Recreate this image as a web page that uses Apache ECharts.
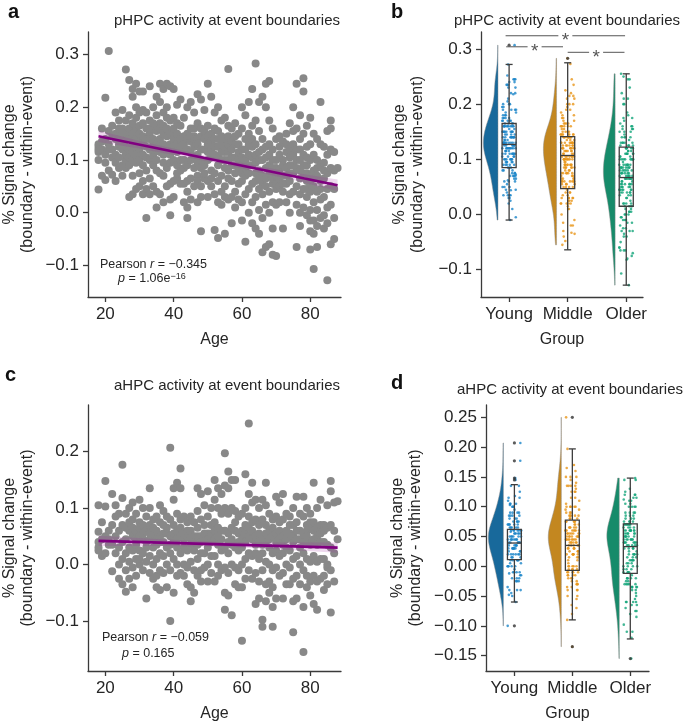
<!DOCTYPE html>
<html><head><meta charset="utf-8">
<script src="https://cdn.jsdelivr.net/npm/echarts@6/dist/echarts.min.js"></script>
<style>html,body{margin:0;padding:0;background:#fff}#c{width:684px;height:724px}</style>
</head><body><div id="c"></div>
<script>
// ---------------- DATA ----------------
const groupNames = ['Young', 'Middle', 'Older'];
const groupAgeMax = [41, 64, 88];          // upper age of each group
const ageTicks = [20, 40, 60, 80];
const yTicksA = [-0.1, 0, 0.1, 0.2, 0.3];
const yTicksB = [-0.1, 0, 0.1, 0.2, 0.3];
const yTicksC = [-0.1, 0, 0.1, 0.2];
const yTicksD = [-0.15, -0.1, -0.05, 0, 0.05, 0.1, 0.15, 0.2, 0.25];

// rows: age, then % signal change values of participants of that age (pHPC)
const pHPC = [
[18,0.044,0.115,0.125,0.12,0.13,0.1],
[19,0.16,0.07,0.12,0.135],
[20,0.218,0.062,0.11,0.14,0.095],
[21,0.307,0.155,0.13,0.08,0.12],
[22,0.072,0.12,0.145,0.105,0.165],
[23,0.14,0.095,0.15,0.19,0.11,0.06],
[24,0.125,0.16,0.105,0.085,0.175,0.14,0.13],
[25,0.195,0.15,0.09,0.12,0.07,0.135,0.16],
[26,0.272,0.175,0.1,0.125,0.145,0.085,0.15,0.11],
[27,0.252,0.185,0.16,0.14,0.105,0.03,0.09,0.12],
[28,0.235,0.22,0.17,0.13,0.07,0.035,0.15,0.1,0.115],
[29,0.245,0.2,0.16,0.125,0.095,0.045,0.14,0.18,0.11],
[30,0.23,0.19,0.15,0.12,0.075,0.05,0.1,0.165,0.135],
[31,0.195,0.17,0.13,0.09,0.06,0.035,0.11,0.145,0.23],
[32,-0.01,0.16,0.14,0.105,0.08,0.19,0.045,0.125],
[33,0.24,0.175,0.15,0.12,0.065,0.035,0.1,0.14,0.16],
[34,0.2,0.16,0.13,0.11,0.09,0.05,0.14,0.17,0.12],
[35,0.22,0.185,0.155,0.12,0.08,0.01,0.04,0.13,0.1,0.165],
[36,0.245,0.21,0.17,0.14,0.115,0.075,0.035,0.16,0.13],
[37,0.235,0.19,0.15,0.11,0.07,0.02,0.13,0.165,0.095],
[38,0.245,0.2,0.16,0.12,0.085,0.05,0.145,0.18],
[39,0.24,0.175,0.13,0.095,0.055,-0.005,0.025,0.15,0.11],
[40,0.235,0.18,0.14,0.1,0.06,0.03,0.125,0.16],
[41,0.205,0.17,0.13,0.09,0.065,0.115,0.15,0.075],
[42,0.215,0.165,0.125,0.1,0.055,0.14,0.08],
[43,0.18,0.145,0.12,0.085,0.055,0.02,0.13,0.1],
[44,0.2,0.15,0.12,0.09,0.04,-0.01,0.01,0.14,0.06],
[45,0.21,0.16,0.135,0.1,0.065,0.025,0.145,0.115],
[46,0.19,0.145,0.125,0.085,0.05,0.14,0.105,0.16],
[47,0.225,0.17,0.14,0.11,0.07,0.02,0.13,0.06,0.095],
[48,0.215,0.16,0.12,0.085,0.05,-0.035,0.145,0.1,0.03],
[49,0.195,0.155,0.12,0.09,0.065,0.14,0.075],
[50,0.245,0.165,0.13,0.1,0.06,0.03,0.115,0.145],
[51,0.22,0.15,0.12,0.08,0.05,0.105,0.135,0.065],
[52,0.19,0.14,0.11,0.075,0.035,-0.033,0.125,0.16],
[53,0.2,0.155,0.125,0.09,0.06,0.02,-0.048,0.105,0.14],
[54,0.175,0.13,0.1,0.07,0.04,0.115,0.145,0.015],
[55,0.18,0.14,0.115,0.085,0.05,-0.04,0.1,0.125,0.03],
[56,0.273,0.165,0.13,0.1,0.065,0.025,0.115,0.145,0.08],
[57,0.16,0.12,0.09,0.06,-0.02,0.105,0.135,0.03],
[58,0.17,0.13,0.105,0.075,0.04,0.09,0.145,0.01],
[59,0.15,0.115,0.085,0.055,0.025,0.1,0.13],
[60,0.2,0.16,0.12,0.09,0.06,0.02,-0.015,0.105,0.075],
[61,0.185,0.14,0.1,0.07,0.035,-0.055,0.12,0.085],
[62,0.21,0.15,0.11,0.075,0.045,0.0,0.09,0.13],
[63,0.235,0.165,0.125,0.09,0.055,0.02,0.105,0.14,-0.02],
[64,0.283,0.175,0.13,0.095,0.06,0.03,-0.03,0.11,0.075],
[65,0.21,0.155,0.115,0.08,0.045,0.005,-0.04,0.1,0.065],
[66,0.22,0.14,0.1,0.07,0.035,-0.01,-0.075,0.12,0.055],
[67,0.245,0.2,0.125,0.085,0.05,0.015,-0.065,0.105,0.065],
[68,0.25,0.175,0.11,0.075,0.04,0.0,-0.06,0.09,0.13],
[69,0.16,0.12,0.085,0.055,0.02,-0.03,-0.08,0.1,0.065],
[70,0.14,0.1,0.07,0.045,0.015,-0.082,0.085,0.055],
[71,0.145,0.11,0.08,0.05,0.02,0.065,0.125],
[72,0.135,0.1,0.07,0.04,-0.03,0.09,0.055],
[73,0.15,0.115,0.085,0.055,0.02,0.13,0.07],
[74,0.17,0.12,0.09,0.06,0.035,0.0,0.105,0.075],
[75,0.2,0.155,0.11,0.075,0.04,0.13,0.09],
[76,0.245,0.16,0.12,0.085,0.05,0.015,-0.065,0.1],
[77,0.185,0.14,0.1,0.065,0.035,0.0,-0.025,0.08,0.12],
[78,0.255,0.23,0.15,0.11,0.075,0.045,0.01,0.09],
[79,0.165,0.125,0.09,0.06,0.03,-0.005,0.105,0.075,0.045],
[80,0.18,0.13,0.1,0.07,0.04,0.005,-0.035,-0.07,-0.015,0.055],
[81,0.15,0.11,0.08,0.05,0.02,-0.015,-0.04,-0.107,0.065],
[82,0.14,0.1,0.07,0.04,0.005,-0.025,-0.065,0.085],
[83,0.21,0.13,0.09,0.06,0.025,-0.01,0.045],
[84,0.125,0.095,0.065,0.03,-0.005,-0.03,0.08],
[85,0.155,0.11,0.075,0.045,0.01,-0.02,-0.128],
[86,0.175,0.16,0.12,0.085,0.05,0.015,-0.06],
[87,0.115,0.08,0.045,-0.01,-0.05],
[88,0.085]
];

// rows: age, then % signal change values (aHPC)
const aHPC = [
[18,0.105,0.058,0.04,0.03,0.025],
[19,0.075,0.045,0.015],
[20,0.148,0.103,0.05,0.02],
[21,0.045,0.035,0.06],
[22,0.125,0.035,-0.012,0.07],
[23,0.085,0.05,0.02,0.105],
[24,0.09,0.06,0.03,-0.025,0.0],
[25,0.177,0.118,0.07,0.04,0.01,-0.035],
[26,0.065,0.045,0.02,-0.01,-0.048,0.09],
[27,0.1,0.06,0.03,0.005,-0.025,0.075],
[28,0.11,0.08,0.05,0.025,-0.005,-0.04,0.065],
[29,0.09,0.06,0.035,0.01,-0.02,0.045],
[30,0.115,0.075,0.05,0.025,0.0,0.065,0.01],
[31,0.1,0.07,0.045,0.02,-0.01,0.055],
[32,0.085,0.06,0.03,0.005,-0.06,0.04],
[33,0.135,0.1,0.07,0.045,0.015,-0.015,0.055],
[34,0.08,0.055,0.03,0.0,-0.025,0.065],
[35,0.085,0.06,0.035,0.01,-0.02,-0.04,0.045],
[36,0.105,0.075,0.05,0.02,-0.01,-0.045,0.04],
[37,0.095,0.07,0.04,0.015,-0.015,0.055],
[38,0.085,0.055,0.03,0.0,-0.04,0.065],
[39,0.207,0.08,0.05,0.02,-0.01,-0.1,0.035],
[40,0.135,0.115,0.07,0.04,0.01,-0.05,0.055],
[41,0.145,0.09,0.06,0.03,0.0,-0.02,0.045],
[42,0.17,0.135,0.08,0.05,0.02,-0.015,0.065],
[43,0.085,0.055,0.03,0.0,-0.02,0.045],
[44,0.075,0.05,0.025,-0.005,-0.035,0.06],
[45,0.085,0.06,0.035,0.005,-0.04,-0.065,0.045],
[46,0.075,0.05,0.025,-0.01,-0.05,0.04],
[47,0.135,0.095,0.065,0.035,0.01,-0.02,0.05],
[48,0.125,0.08,0.05,0.02,-0.01,-0.03,0.04],
[49,0.105,0.07,0.045,0.02,-0.005,0.055],
[50,0.13,0.085,0.055,0.03,0.0,-0.03,0.045],
[51,0.1,0.07,0.04,0.015,-0.015,0.055],
[52,0.15,0.115,0.075,0.045,0.015,-0.03,0.06],
[53,0.135,0.1,0.065,0.035,0.0,-0.02,0.05],
[54,0.125,0.09,0.06,0.025,-0.01,0.045],
[55,0.197,0.14,0.1,0.06,0.03,-0.005,-0.05,-0.08],
[56,0.165,0.135,0.09,0.055,0.02,-0.015,-0.055,0.04],
[57,0.15,0.1,0.065,0.035,0.0,-0.09,0.045],
[58,0.15,0.095,0.06,0.03,-0.005,-0.035,0.075],
[59,0.085,0.055,0.025,-0.01,-0.04,0.04],
[60,0.09,0.06,0.03,0.0,-0.04,-0.135,0.045],
[61,0.16,0.1,0.07,0.04,0.01,-0.025,0.055],
[62,0.25,0.125,0.085,0.05,0.02,-0.01,0.065],
[63,0.145,0.11,0.075,0.045,0.015,-0.025,0.06],
[64,0.115,0.08,0.05,0.02,-0.015,-0.07,0.035],
[65,0.1,0.07,0.04,0.01,-0.03,-0.06,0.055],
[66,0.115,0.08,0.05,0.02,-0.01,-0.098,-0.11,0.035],
[67,0.145,0.105,0.07,0.04,0.005,-0.035,-0.065,0.055],
[68,0.09,0.06,0.03,0.0,-0.03,-0.05,0.045],
[69,0.08,0.05,0.02,-0.01,-0.04,-0.11,-0.075,0.065],
[70,0.12,0.085,0.055,0.025,-0.005,-0.06,0.04],
[71,0.11,0.075,0.045,0.015,-0.02,0.06],
[72,0.125,0.08,0.05,0.02,-0.015,-0.06,0.035],
[73,0.09,0.06,0.03,0.0,-0.035,0.045],
[74,0.085,0.055,0.025,-0.005,-0.035,0.07],
[75,0.1,0.07,0.04,0.01,-0.025,-0.065,-0.12,0.05],
[76,0.12,0.075,0.045,0.015,-0.02,-0.06,0.06],
[77,0.09,0.06,0.03,0.0,-0.035,0.045],
[78,0.12,0.085,0.055,0.02,-0.01,-0.075,-0.155,0.04],
[79,0.1,0.07,0.04,0.01,-0.02,-0.04,0.06,0.05],
[80,0.09,0.065,0.035,0.005,-0.03,-0.055,0.075],
[81,0.145,0.075,0.045,0.015,-0.02,-0.07,0.06],
[82,0.1,0.065,0.035,0.005,-0.03,-0.08,0.05],
[83,0.115,0.07,0.04,0.01,-0.025,0.055],
[84,0.07,0.04,0.01,-0.02,-0.045,0.06],
[85,0.105,0.065,0.035,0.0,-0.035,-0.005],
[86,0.148,0.13,0.07,0.03,-0.01,-0.085],
[87,0.11,0.06,0.02,-0.03],
[88,0.112,0.045]
];

// regression fits (age, fitted value) and CI half-widths (age, half-width)
const fitA = [[18, 0.145], [88, 0.052]];
const ciA  = [[18, 0.011], [30, 0.007], [53, 0.0045], [75, 0.007], [88, 0.011]];
const fitC = [[18, 0.042], [88, 0.030]];
const ciC  = [[18, 0.009], [35, 0.006], [53, 0.004], [70, 0.006], [88, 0.009]];

// box stats per group: [lower whisker, Q1, median, Q3, upper whisker]
const boxB = [[-0.010, 0.085, 0.127, 0.165, 0.272],
              [-0.064, 0.047, 0.107, 0.141, 0.275],
              [-0.128, 0.015, 0.067, 0.122, 0.255]];
const boxD = [[-0.060, 0.011, 0.039, 0.062, 0.137],
              [-0.090, -0.007, 0.035, 0.0775, 0.197],
              [-0.122, -0.012, 0.033, 0.071, 0.148]];

// significance bars in panel b: [from group, to group, level]
const sigB = [[-0.06, 1.98, 0.324], [-0.05, 0.92, 0.304], [1.0, 1.97, 0.294]];

// ---------------- STYLE ----------------
const FONT = '"Liberation Sans", Arial, Helvetica, sans-serif';
const TXT = '#262626', AX = '#3a3a3a';
const violinColors = ['#18699b', '#c38720', '#168b6a'];
const dotColors = ['#1a85c8', '#e8961a', '#14a57a'];

function flatten(rows) { const out = []; rows.forEach(r => { for (let i = 1; i < r.length; i++) out.push([r[0], r[i]]); }); return out; }
const ptsA = flatten(pHPC), ptsC = flatten(aHPC);
function groupOf(age) { return age <= groupAgeMax[0] ? 0 : age <= groupAgeMax[1] ? 1 : 2; }
function groupVals(pts) { const g = [[], [], []]; pts.forEach(p => g[groupOf(p[0])].push(p[1])); return g; }
const grpB = groupVals(ptsA), grpD = groupVals(ptsC);

function kde(vals, nGrid) {
  const n = vals.length, mean = vals.reduce((a, b) => a + b, 0) / n;
  const sd = Math.sqrt(vals.reduce((a, b) => a + (b - mean) * (b - mean), 0) / (n - 1));
  const bw = sd * Math.pow(n, -0.2);
  const lo = Math.min(...vals), hi = Math.max(...vals);
  const out = [];
  for (let i = 0; i <= nGrid; i++) {
    const y = lo + (hi - lo) * i / nGrid; let d = 0;
    vals.forEach(v => { const z = (y - v) / bw; d += Math.exp(-0.5 * z * z); });
    out.push([y, d / (n * bw * Math.sqrt(2 * Math.PI))]);
  }
  return out;
}

function fmt(dec) { return v => (v < -1e-9 ? '\u2212' : '') + Math.abs(v).toFixed(dec); }

function valAxis(gi, min, max, ticks, formatter, extra) {
  return Object.assign({
    type: 'value', gridIndex: gi, min, max, splitLine: { show: false },
    axisLine: { show: true, onZero: false, lineStyle: { color: AX, width: 1.3 } },
    axisTick: { show: true, length: 5, lineStyle: { color: AX, width: 1.3 }, customValues: ticks },
    axisLabel: { customValues: ticks, formatter, fontSize: 17, color: TXT, fontFamily: FONT, margin: 9 },
    nameTextStyle: { fontSize: 16, color: TXT, fontFamily: FONT, lineHeight: 18 }
  }, extra);
}
const yName = '% Signal change\n(boundary - within-event)';

function scatterPanel(gi, pts, fit, ci) {
  const interp = a => fit[0][1] + (fit[1][1] - fit[0][1]) * (a - fit[0][0]) / (fit[1][0] - fit[0][0]);
  return [
    { type: 'scatter', xAxisIndex: gi, yAxisIndex: gi, data: pts, symbolSize: 8,
      itemStyle: { color: '#888888', opacity: 1 }, z: 2, silent: true },
    { type: 'custom', xAxisIndex: gi, yAxisIndex: gi, data: [[0, 0]], z: 4, silent: true,
      renderItem: (p, api) => {
        const pts2 = [];
        ci.forEach(r => pts2.push(api.coord([r[0], interp(r[0]) + r[1]])));
        for (let i = ci.length - 1; i >= 0; i--) pts2.push(api.coord([ci[i][0], interp(ci[i][0]) - ci[i][1]]));
        return { type: 'polygon', shape: { points: pts2 }, style: { fill: 'rgba(160,40,160,0.18)' } };
      } },
    { type: 'line', xAxisIndex: gi, yAxisIndex: gi, data: fit, symbol: 'none', z: 5, silent: true,
      lineStyle: { color: '#800080', width: 2.6 } }
  ];
}

function rainPanel(gi, grp, box, halfW) {
  const profs = grp.map(v => kde(v, 120));
  let maxD = 0; profs.forEach(pr => pr.forEach(r => { if (r[1] > maxD) maxD = r[1]; }));
  const out = [];
  profs.forEach((prof, g) => {
    out.push({ type: 'custom', xAxisIndex: gi, yAxisIndex: gi, data: [[g, 0]], z: 2, silent: true,
      renderItem: (p, api) => {
        const x0 = g - 0.19, pts = [];
        prof.forEach(r => pts.push(api.coord([x0 - r[1] / maxD * halfW, r[0]])));
        for (let i = prof.length - 1; i >= 0; i--) pts.push(api.coord([x0, prof[i][0]]));
        return { type: 'polygon', shape: { points: pts },
          style: { fill: violinColors[g], stroke: 'rgba(140,140,140,0.8)', lineWidth: 0.6 } };
      } });
    out.push({ type: 'scatter', xAxisIndex: gi, yAxisIndex: gi, z: 3, silent: true, symbolSize: 2.6,
      data: grp[g].map((v, k) => [g + (((k + 1) * 0.6180339887) % 1 - 0.5) * 0.24, v]),
      itemStyle: { color: dotColors[g] } });
    out.push({ type: 'scatter', xAxisIndex: gi, yAxisIndex: gi, z: 6, silent: true, symbolSize: 3.2,
      data: grp[g].filter(v => v < box[g][0] || v > box[g][4]).map(v => [g, v]),
      itemStyle: { color: '#333' } });
  });
  out.push({ type: 'custom', xAxisIndex: gi, yAxisIndex: gi, z: 5, silent: true,
    data: box.map((b, i) => [i, b[0], b[1], b[2], b[3], b[4]]),
    renderItem: (p, api) => {
      const i = api.value(0), lo = api.value(1), q1 = api.value(2), med = api.value(3), q3 = api.value(4), hi = api.value(5);
      const bw = 0.12, cw = 0.06, c = (x, y) => api.coord([x, y]);
      const st = { stroke: '#3d3d3d', lineWidth: 1.3, fill: null };
      const tl = c(i - bw, q3), br = c(i + bw, q1);
      const L = (a, b) => ({ type: 'line', shape: { x1: a[0], y1: a[1], x2: b[0], y2: b[1] }, style: st });
      return { type: 'group', children: [
        { type: 'rect', shape: { x: tl[0], y: tl[1], width: br[0] - tl[0], height: br[1] - tl[1] }, style: st },
        L(c(i - bw, med), c(i + bw, med)),
        L(c(i, q3), c(i, hi)), L(c(i - cw, hi), c(i + cw, hi)),
        L(c(i, q1), c(i, lo)), L(c(i - cw, lo), c(i + cw, lo))
      ] };
    } });
  return out;
}

const sigSeries = { type: 'custom', xAxisIndex: 1, yAxisIndex: 1, z: 7, silent: true, data: sigB,
  renderItem: (p, api) => {
    const a = api.coord([api.value(0), api.value(2)]), b = api.coord([api.value(1), api.value(2)]);
    const m = (a[0] + b[0]) / 2;
    return { type: 'group', children: [
      { type: 'line', shape: { x1: a[0], y1: a[1], x2: b[0], y2: b[1] }, style: { stroke: '#555', lineWidth: 1 } },
      { type: 'rect', shape: { x: m - 7, y: a[1] - 5, width: 14, height: 10 }, style: { fill: '#fff' } },
      { type: 'text', x: m, y: a[1] + 5, style: { text: '*', fontSize: 19, fontFamily: FONT, fill: '#555', align: 'center', verticalAlign: 'middle' } }
    ] };
  } };

const chart = echarts.init(document.getElementById('c'));
const catFmt = v => groupNames[Math.round(v)] || '';
const titleStyle = { fontSize: 15, fontWeight: 'normal', color: TXT, fontFamily: FONT };
const letterStyle = { fontSize: 20, fontWeight: 'bold', color: '#111', fontFamily: FONT };

chart.setOption({
  animation: false,
  textStyle: { fontFamily: FONT },
  title: [
    { text: 'a', left: 3, top: -3, textStyle: letterStyle },
    { text: 'b', left: 386, top: -3, textStyle: letterStyle },
    { text: 'c', left: 0, top: 360, textStyle: letterStyle },
    { text: 'd', left: 386, top: 368, textStyle: letterStyle },
    { text: 'pHPC activity at event boundaries', left: 222, top: 8, textAlign: 'center', textStyle: titleStyle },
    { text: 'pHPC activity at event boundaries', left: 562, top: 8, textAlign: 'center', textStyle: titleStyle },
    { text: 'aHPC activity at event boundaries', left: 222, top: 373, textAlign: 'center', textStyle: titleStyle },
    { text: 'aHPC activity at event boundaries', left: 565, top: 377, textAlign: 'center', textStyle: titleStyle }
  ],
  grid: [
    { left: 88, top: 32, width: 253, height: 265 },
    { left: 481, top: 32, width: 162, height: 265 },
    { left: 88, top: 405, width: 253, height: 266 },
    { left: 486, top: 405, width: 163, height: 266 }
  ],
  xAxis: [
    valAxis(0, 14.92, 89.0, ageTicks, v => String(v), { name: 'Age', nameLocation: 'middle', nameGap: 34 }),
    valAxis(1, -0.48, 2.286, [0, 1, 2], catFmt, { name: 'Group', nameLocation: 'middle', nameGap: 34 }),
    valAxis(2, 14.92, 89.0, ageTicks, v => String(v), { name: 'Age', nameLocation: 'middle', nameGap: 34 }),
    valAxis(3, -0.49, 2.323, [0, 1, 2], catFmt, { name: 'Group', nameLocation: 'middle', nameGap: 34 })
  ],
  yAxis: [
    valAxis(0, -0.160, 0.343, yTicksA, fmt(1), { name: yName, nameLocation: 'middle', nameRotate: 90, nameGap: 51 }),
    valAxis(1, -0.1495, 0.3308, yTicksB, fmt(1), { name: yName, nameLocation: 'middle', nameRotate: 90, nameGap: 54 }),
    valAxis(2, -0.1886, 0.2827, yTicksC, fmt(1), { name: yName, nameLocation: 'middle', nameRotate: 90, nameGap: 51 }),
    valAxis(3, -0.1758, 0.2707, yTicksD, fmt(2), { name: yName, nameLocation: 'middle', nameRotate: 90, nameGap: 61 })
  ],
  graphic: [
    { type: 'text', left: 100, top: 258, style: { text: 'Pearson {i|r} = \u22120.345', fontSize: 12.5, fontFamily: FONT, fill: TXT,
        rich: { i: { fontStyle: 'italic', fontSize: 12.5, fontFamily: FONT, fill: TXT } } } },
    { type: 'text', left: 118, top: 272, style: { text: '{i|p} = 1.06e{s|\u221216}', fontSize: 12.5, fontFamily: FONT, fill: TXT,
        rich: { i: { fontStyle: 'italic', fontSize: 12.5, fontFamily: FONT, fill: TXT }, s: { fontSize: 9, fontFamily: FONT, fill: TXT, verticalAlign: 'top' } } } },
    { type: 'text', left: 102, top: 631, style: { text: 'Pearson {i|r} = \u22120.059', fontSize: 12.5, fontFamily: FONT, fill: TXT,
        rich: { i: { fontStyle: 'italic', fontSize: 12.5, fontFamily: FONT, fill: TXT } } } },
    { type: 'text', left: 122, top: 647, style: { text: '{i|p} = 0.165', fontSize: 12.5, fontFamily: FONT, fill: TXT,
        rich: { i: { fontStyle: 'italic', fontSize: 12.5, fontFamily: FONT, fill: TXT } } } }
  ],
  series: [].concat(
    scatterPanel(0, ptsA, fitA, ciA),
    scatterPanel(2, ptsC, fitC, ciC),
    rainPanel(1, grpB, boxB, 0.25),
    rainPanel(3, grpD, boxD, 0.26),
    [sigSeries]
  )
});
</script></body></html>
